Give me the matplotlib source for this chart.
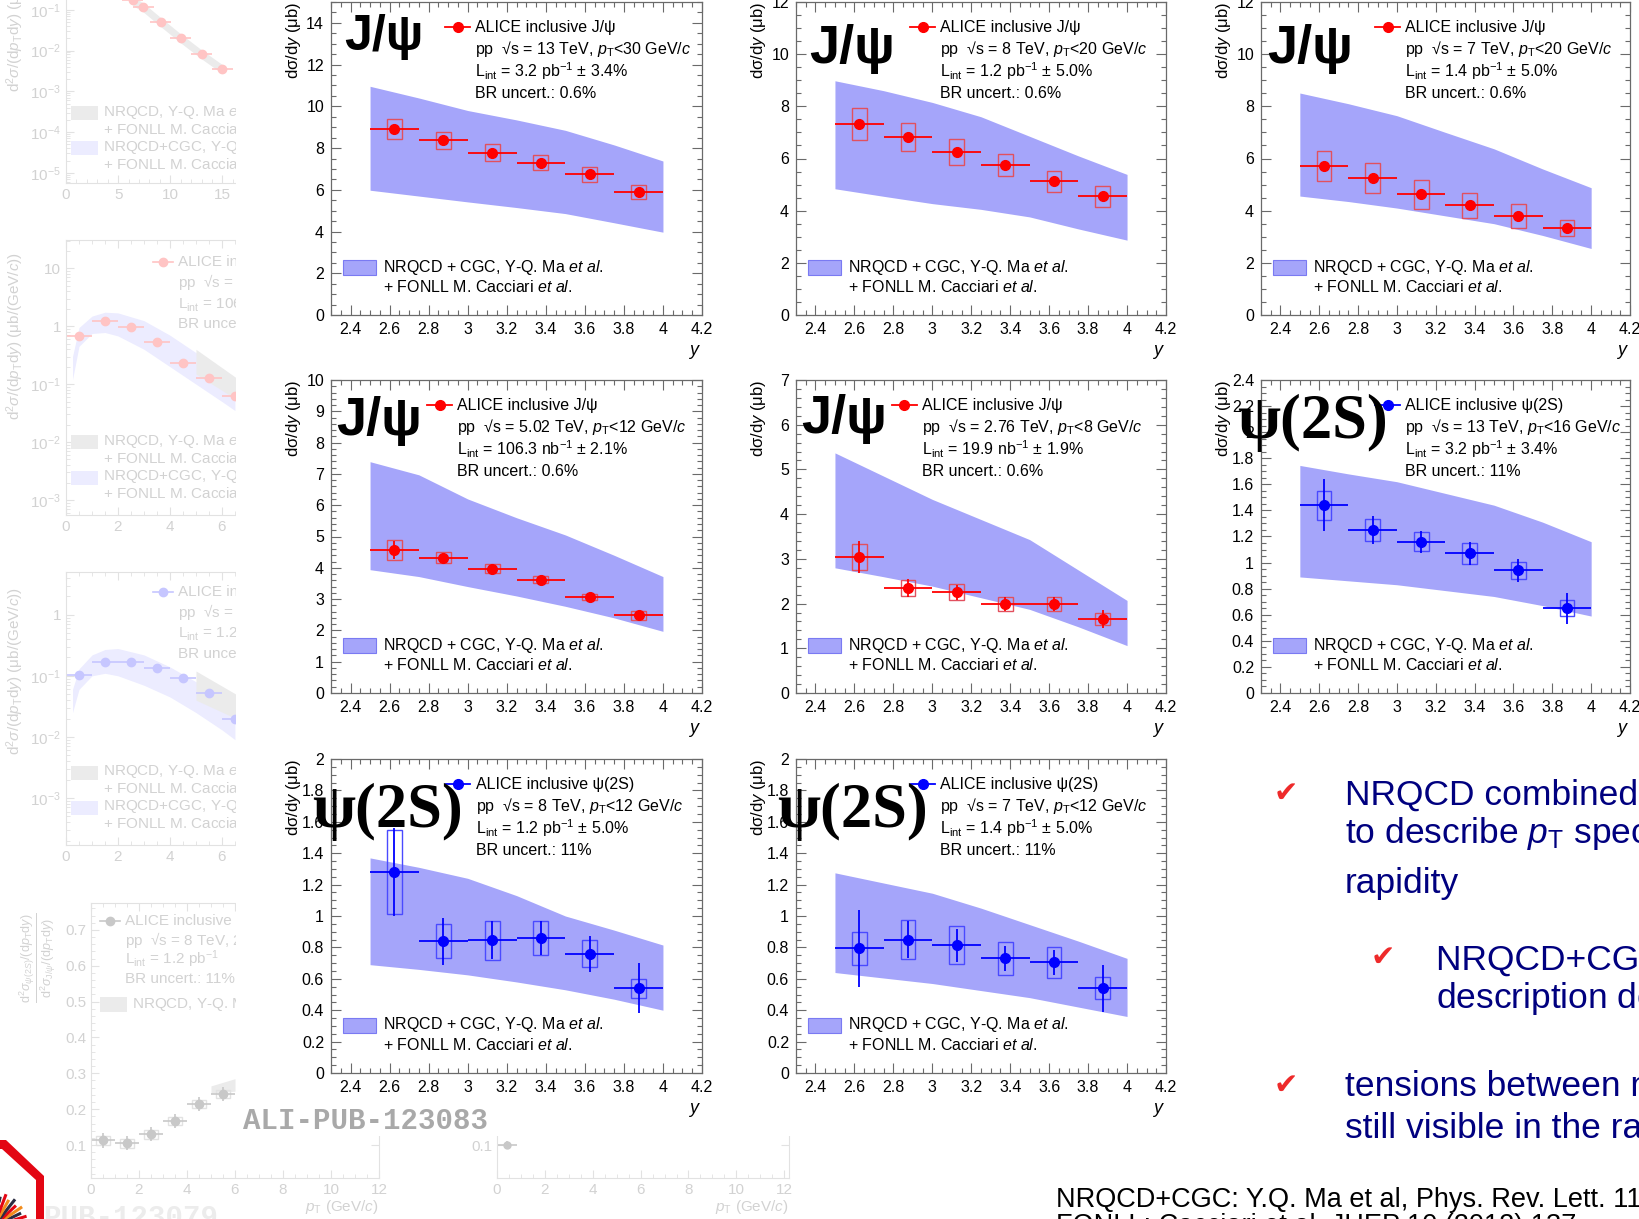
import numpy as np
import matplotlib
matplotlib.use("Agg")
import matplotlib.pyplot as plt
from matplotlib.patches import Rectangle, Polygon
from matplotlib.ticker import MultipleLocator, FixedLocator, FuncFormatter

plt.rcParams['font.family'] = ['Liberation Sans', 'DejaVu Sans']
plt.rcParams['mathtext.fontset'] = 'custom'
plt.rcParams['mathtext.rm'] = 'Liberation Sans'
plt.rcParams['mathtext.it'] = 'Liberation Sans:italic'
plt.rcParams['mathtext.bf'] = 'Liberation Sans:bold'

W, H = 1640, 1219

# ---------------------------------------------------------------- data
rap_centres = [2.625, 2.875, 3.125, 3.375, 3.625, 3.875]
band_rap = [2.5, 2.75, 3.0, 3.25, 3.5, 3.75, 4.0]

jpsi13_val = [8.93, 8.37, 7.78, 7.30, 6.75, 5.89]
jpsi13_stat = [0.08, 0.07, 0.06, 0.06, 0.06, 0.06]
jpsi13_syst = [0.48, 0.42, 0.40, 0.37, 0.36, 0.32]
jpsi13_lo = [5.98, 5.70, 5.42, 5.15, 4.86, 4.42, 3.97]
jpsi13_hi = [10.96, 10.40, 9.80, 9.35, 8.85, 8.15, 7.38]

jpsi8_val = [7.32, 6.82, 6.25, 5.76, 5.13, 4.55]
jpsi8_stat = [0.10, 0.08, 0.07, 0.07, 0.07, 0.08]
jpsi8_syst = [0.60, 0.54, 0.50, 0.42, 0.40, 0.40]
jpsi8_lo = [4.84, 4.55, 4.27, 4.05, 3.76, 3.30, 2.87]
jpsi8_hi = [8.98, 8.60, 8.15, 7.60, 6.85, 6.10, 5.39]

jpsi7_val = [5.71, 5.26, 4.62, 4.20, 3.80, 3.32]
jpsi7_stat = [0.08, 0.07, 0.07, 0.06, 0.06, 0.07]
jpsi7_syst = [0.59, 0.58, 0.56, 0.48, 0.45, 0.31]
jpsi7_lo = [4.56, 4.35, 4.10, 3.80, 3.50, 3.05, 2.55]
jpsi7_hi = [8.51, 8.10, 7.64, 7.00, 6.37, 5.60, 4.88]

jpsi502_val = [4.57, 4.32, 3.97, 3.62, 3.06, 2.48]
jpsi502_stat = [0.28, 0.12, 0.08, 0.08, 0.08, 0.12]
jpsi502_syst = [0.31, 0.18, 0.14, 0.11, 0.10, 0.14]
jpsi502_lo = [3.94, 3.72, 3.40, 3.10, 2.77, 2.40, 1.97]
jpsi502_hi = [7.39, 6.97, 6.20, 5.60, 5.05, 4.40, 3.72]

jpsi276_val = [3.04, 2.35, 2.25, 1.99, 1.99, 1.66]
jpsi276_stat = [0.35, 0.20, 0.16, 0.15, 0.15, 0.20]
jpsi276_syst = [0.29, 0.18, 0.18, 0.16, 0.16, 0.13]
jpsi276_lo = [2.80, 2.60, 2.39, 2.13, 1.87, 1.48, 1.06]
jpsi276_hi = [5.37, 4.85, 4.33, 3.88, 3.43, 2.75, 2.07]

psi2s13_val = [1.44, 1.25, 1.16, 1.07, 0.94, 0.65]
psi2s13_stat = [0.20, 0.105, 0.083, 0.086, 0.09, 0.12]
psi2s13_syst = [0.11, 0.086, 0.073, 0.08, 0.067, 0.06]
psi2s13_lo = [0.89, 0.86, 0.83, 0.785, 0.74, 0.67, 0.59]
psi2s13_hi = [1.745, 1.68, 1.62, 1.53, 1.44, 1.31, 1.16]

psi2s8_val = [1.28, 0.84, 0.845, 0.86, 0.76, 0.54]
psi2s8_stat = [0.28, 0.15, 0.12, 0.11, 0.115, 0.16]
psi2s8_syst = [0.265, 0.11, 0.125, 0.11, 0.085, 0.06]
psi2s8_lo = [0.69, 0.66, 0.625, 0.58, 0.53, 0.47, 0.40]
psi2s8_hi = [1.37, 1.31, 1.24, 1.13, 1.00, 0.91, 0.815]

psi2s7_val = [0.795, 0.85, 0.815, 0.73, 0.705, 0.54]
psi2s7_stat = [0.245, 0.12, 0.105, 0.08, 0.08, 0.15]
psi2s7_syst = [0.105, 0.127, 0.12, 0.105, 0.10, 0.07]
psi2s7_lo = [0.64, 0.605, 0.57, 0.525, 0.48, 0.42, 0.36]
psi2s7_hi = [1.275, 1.21, 1.145, 1.05, 0.945, 0.84, 0.73]

jpsi_info = [
    ["ALICE inclusive J/ψ", "pp  √s = 13 TeV, $p_{\\rm T}$<30 GeV/$c$",
     "L$_{\\rm int}$ = 3.2 pb$^{-1}$ ± 3.4%", "BR uncert.: 0.6%"],
    ["ALICE inclusive J/ψ", "pp  √s = 8 TeV, $p_{\\rm T}$<20 GeV/$c$",
     "L$_{\\rm int}$ = 1.2 pb$^{-1}$ ± 5.0%", "BR uncert.: 0.6%"],
    ["ALICE inclusive J/ψ", "pp  √s = 7 TeV, $p_{\\rm T}$<20 GeV/$c$",
     "L$_{\\rm int}$ = 1.4 pb$^{-1}$ ± 5.0%", "BR uncert.: 0.6%"],
    ["ALICE inclusive J/ψ", "pp  √s = 5.02 TeV, $p_{\\rm T}$<12 GeV/$c$",
     "L$_{\\rm int}$ = 106.3 nb$^{-1}$ ± 2.1%", "BR uncert.: 0.6%"],
    ["ALICE inclusive J/ψ", "pp  √s = 2.76 TeV, $p_{\\rm T}$<8 GeV/$c$",
     "L$_{\\rm int}$ = 19.9 nb$^{-1}$ ± 1.9%", "BR uncert.: 0.6%"],
]
psi_info = [
    ["ALICE inclusive ψ(2S)", "pp  √s = 13 TeV, $p_{\\rm T}$<16 GeV/$c$",
     "L$_{\\rm int}$ = 3.2 pb$^{-1}$ ± 3.4%", "BR uncert.: 11%"],
    ["ALICE inclusive ψ(2S)", "pp  √s = 8 TeV, $p_{\\rm T}$<12 GeV/$c$",
     "L$_{\\rm int}$ = 1.2 pb$^{-1}$ ± 5.0%", "BR uncert.: 11%"],
    ["ALICE inclusive ψ(2S)", "pp  √s = 7 TeV, $p_{\\rm T}$<12 GeV/$c$",
     "L$_{\\rm int}$ = 1.4 pb$^{-1}$ ± 5.0%", "BR uncert.: 11%"],
]
model_label = ["NRQCD + CGC, Y-Q. Ma $\\mathit{et\\ al.}$",
               "+ FONLL M. Cacciari $\\mathit{et\\ al.}$"]

# faded spectra shown behind the rapidity panels
fadeA_pt = [6.4, 7.4, 9.1, 11.0, 13.0, 15.0]
fadeA_val = [0.17, 0.118, 0.051, 0.0205, 0.0083, 0.0036]
fadeB_pt = [0.5, 1.5, 2.5, 3.5, 4.5, 5.5, 6.5]
fadeB_val = [0.67, 1.22, 0.96, 0.54, 0.23, 0.13, 0.062]
fadeC_val = [0.104, 0.17, 0.17, 0.135, 0.093, 0.053, 0.020]
fade_band_pt = [0.25, 0.5, 1.0, 1.5, 2.0, 3.0, 4.0, 5.0, 6.0, 6.5]
fadeB_band_lo = [0.12, 0.45, 0.75, 0.78, 0.68, 0.40, 0.20, 0.10, 0.05, 0.035]
fadeB_band_hi = [0.30, 0.95, 1.50, 1.75, 1.70, 1.25, 0.70, 0.35, 0.17, 0.12]
fadeC_band_lo = [0.025, 0.06, 0.10, 0.11, 0.10, 0.07, 0.045, 0.025, 0.013, 0.009]
fadeC_band_hi = [0.06, 0.13, 0.22, 0.27, 0.28, 0.22, 0.14, 0.08, 0.045, 0.03]
ratio_pt = [0.5, 1.5, 2.5, 3.5, 4.5, 5.5]
ratio_val = [0.113, 0.105, 0.130, 0.167, 0.214, 0.242]

BAND = '#a5a5fa'
BAND_EDGE = '#7a7af2'
RED = '#ff0000'
RED_BOX = '#e2505e'
BLUE = '#0000ff'
BLUE_BOX = '#4a4aff'
FRAME = '#6a6a6a'

fig = plt.figure(figsize=(W / 100, H / 100), dpi=100)


def box(l, t, r, b):
    return [l / W, 1 - b / H, (r - l) / W, (b - t) / H]


def pix_axes(z):
    a = fig.add_axes([0, 0, 1, 1], zorder=z)
    a.set_xlim(0, W)
    a.set_ylim(H, 0)
    a.axis('off')
    a.patch.set_alpha(0)
    return a


def gfmt(v, pos):
    return f"{round(v, 6):g}"


# ---------------------------------------------------------------- faded layer
F_TXT = '#d2d2d2'
F_LINE = '#e2e2e2'
F_PINK = '#ffc4c4'
F_BLUE = '#c6c6ff'
F_GRAY = '#c8c8c8'
F_BAND_B = '#ececff'
F_BAND_G = '#ebebeb'


def logfmt(v, pos):
    e = int(round(np.log10(v)))
    if e == 0:
        return "1"
    if e == 1:
        return "10"
    return f"$10^{{{e}}}$"


def faded_axes(px, xlim, ylim, log, spines):
    a = fig.add_axes(box(*px), zorder=-3)
    a.set_xlim(*xlim)
    if log:
        a.set_yscale('log')
        a.yaxis.set_major_formatter(FuncFormatter(logfmt))
    a.set_ylim(*ylim)
    for s in a.spines:
        a.spines[s].set_visible(s in spines)
        a.spines[s].set_color(F_LINE)
    a.tick_params(which='both', direction='in', colors=F_LINE, labelcolor=F_TXT,
                  labelsize=11, top=('top' in spines), right=False)
    a.tick_params(which='major', length=6)
    a.tick_params(which='minor', length=3)
    a.set_facecolor('none')
    return a


fa = faded_axes((66, 0, 236, 183), (0, 16.3), (10 ** -5.25, 10 ** -0.76), True, ('left', 'bottom'))
fa.xaxis.set_major_locator(MultipleLocator(5))
fa.xaxis.set_minor_locator(MultipleLocator(1))
fa.fill_between(fadeA_pt, np.array(fadeA_val) * 0.75, np.array(fadeA_val) * 1.25, color=F_BAND_G, lw=0)
fa.errorbar(fadeA_pt, fadeA_val, xerr=1.0, fmt='o', color=F_PINK, ms=6, elinewidth=1.2)

fb = faded_axes((66, 240, 236, 515), (0, 6.54), (10 ** -3.26, 10 ** 1.49), True, ('left', 'bottom', 'top'))
fb.xaxis.set_major_locator(MultipleLocator(2))
fb.xaxis.set_minor_locator(MultipleLocator(0.5))
fb.fill_between(fade_band_pt, fadeB_band_lo, fadeB_band_hi, color=F_BAND_B, lw=0)
fb.fill_between([5.0, 6.54], [0.15, 0.055], [0.40, 0.13], color=F_BAND_G, lw=0)
fb.errorbar(fadeB_pt, fadeB_val, xerr=0.5, fmt='o', color=F_PINK, ms=6, elinewidth=1.2)

fc = faded_axes((66, 572, 236, 845), (0, 6.54), (10 ** -3.77, 10 ** 0.7), True, ('left', 'bottom', 'top'))
fc.xaxis.set_major_locator(MultipleLocator(2))
fc.xaxis.set_minor_locator(MultipleLocator(0.5))
fc.fill_between(fade_band_pt, fadeC_band_lo, fadeC_band_hi, color=F_BAND_B, lw=0)
fc.fill_between([5.0, 6.54], [0.04, 0.02], [0.12, 0.05], color=F_BAND_G, lw=0)
fc.errorbar(fadeB_pt, fadeC_val, xerr=0.5, fmt='o', color=F_BLUE, ms=6, elinewidth=1.2)

fd = faded_axes((91, 903, 379, 1178), (0, 12), (0.008, 0.775), False, ('left', 'bottom', 'top', 'right'))
fd.tick_params(right=True)
fd.xaxis.set_major_locator(MultipleLocator(2))
fd.xaxis.set_minor_locator(MultipleLocator(0.5))
fd.yaxis.set_major_locator(MultipleLocator(0.1))
fd.yaxis.set_minor_locator(MultipleLocator(0.02))
fd.yaxis.set_major_formatter(FuncFormatter(gfmt))
fd.fill_between([5.0, 6.0], [0.245, 0.25], [0.265, 0.285], color=F_BAND_G, lw=0)
for xc, v in zip(ratio_pt, ratio_val):
    fd.add_patch(Rectangle((xc - 0.3, v - 0.012), 0.6, 0.024, fill=False, ec=F_LINE, lw=1))
fd.errorbar(ratio_pt, ratio_val, xerr=0.5, yerr=0.02, fmt='o', color=F_GRAY, ms=6, elinewidth=1.2)

fe = faded_axes((497, 903, 789, 1178), (0, 12.2), (0.008, 0.775), False, ('left', 'bottom', 'right'))
fe.tick_params(right=True)
fe.xaxis.set_major_locator(MultipleLocator(2))
fe.xaxis.set_minor_locator(MultipleLocator(0.5))
fe.yaxis.set_major_locator(MultipleLocator(0.1))
fe.yaxis.set_major_formatter(FuncFormatter(gfmt))
fe.errorbar([0.42], [0.1], xerr=0.4, yerr=0.01, fmt='o', color=F_GRAY, ms=5, elinewidth=1.2)

under = pix_axes(-2.5)
fk = dict(color=F_TXT, fontsize=11, va='center')
# spectra legends
for top, rects in ((112, (106, 141)), (441, (435, 471)), (771, (766, 801))):
    under.add_patch(Rectangle((71, rects[0]), 27, 14, color=F_BAND_G, lw=0))
    under.add_patch(Rectangle((71, rects[1]), 27, 14, color=F_BAND_B, lw=0))
    step = 17.5
    under.text(103, top, "NRQCD, Y-Q. Ma $\\mathit{et\\ al.}$", **fk)
    under.text(103, top + step, "+ FONLL M. Cacciari $\\mathit{et\\ al.}$", **fk)
    under.text(103, top + 2 * step, "NRQCD+CGC, Y-Q. Ma $\\mathit{et\\ al.}$", **fk)
    under.text(103, top + 3 * step, "+ FONLL M. Cacciari $\\mathit{et\\ al.}$", **fk)
for top, col, lines in (
        (262, F_PINK, ["ALICE inclusive J/ψ", "pp  √s = 5.02 TeV, 2.5<$y$<4",
                       "L$_{\\rm int}$ = 106.3 nb$^{-1}$ ± 2.1%", "BR uncert.: 0.6%"]),
        (592, F_BLUE, ["ALICE inclusive ψ(2S)", "pp  √s = 8 TeV, 2.5<$y$<4",
                       "L$_{\\rm int}$ = 1.2 pb$^{-1}$ ± 5.0%", "BR uncert.: 11%"])):
    under.plot([153, 173], [top, top], color=col, lw=1.2)
    under.plot([163], [top], 'o', color=col, ms=6)
    for i, s in enumerate(lines):
        under.text(178, top + 20.5 * i, s, **fk)
under.plot([100, 120], [921, 921], color=F_GRAY, lw=1.2)
under.plot([110], [921], 'o', color=F_GRAY, ms=6)
for i, s in enumerate(["ALICE inclusive J/ψ and ψ(2S)", "pp  √s = 8 TeV, 2.5<$y$<4",
                       "L$_{\\rm int}$ = 1.2 pb$^{-1}$", "BR uncert.: 11%"]):
    under.text(125, 921 + 19.3 * i, s, **fk)
under.add_patch(Rectangle((100, 997), 27, 15, color=F_BAND_G, lw=0))
under.text(132, 1004, "NRQCD, Y-Q. Ma $\\mathit{et\\ al.}$", **fk)
ylab = "d$^2\\sigma$/(d$p_{\\rm T}$d$y$) (μb/(GeV/$c$))"
for yb in (92, 420, 755):
    under.text(15, yb, ylab, color=F_TXT, fontsize=11, rotation=90,
               rotation_mode='anchor', ha='left', va='center')
under.text(38, 958, "$\\frac{{\\rm d}^2\\sigma_{\\psi(2S)}/({\\rm d}p_{\\rm T}{\\rm d}y)}"
                    "{{\\rm d}^2\\sigma_{{\\rm J}/\\psi}/({\\rm d}p_{\\rm T}{\\rm d}y)}$",
           color=F_TXT, fontsize=13, rotation=90, ha='center', va='center')
under.text(379, 1207, "$p_{\\rm T}$ (GeV/$c$)", color=F_TXT, fontsize=11, ha='right', va='center')
under.text(789, 1207, "$p_{\\rm T}$ (GeV/$c$)", color=F_TXT, fontsize=11, ha='right', va='center')
under.text(43, 1218, "PUB-123079", color='#ececec', fontsize=21, fontfamily='Liberation Mono',
           fontweight='bold', va='center')

# white sheet carrying the rapidity panels
cover = pix_axes(-2)
cover.add_patch(Rectangle((236, 0), W - 236, 1136, color='white', lw=0))

# ---------------------------------------------------------------- main panels
cols = [(331, 702), (796, 1166), (1261, 1630)]
rows = [(2, 315), (380, 693), (759, 1073)]

panels = [
    dict(r=0, c=0, v=jpsi13_val, st=jpsi13_stat, sy=jpsi13_syst, lo=jpsi13_lo, hi=jpsi13_hi,
         ymax=15, maj=2, mnr=0.5, kind='jpsi', info=jpsi_info[0], lx=0.388, big=(0.036, 0.847, 36)),
    dict(r=0, c=1, v=jpsi8_val, st=jpsi8_stat, sy=jpsi8_syst, lo=jpsi8_lo, hi=jpsi8_hi,
         ymax=12, maj=2, mnr=0.5, kind='jpsi', info=jpsi_info[1], lx=0.389, big=(0.036, 0.805, 39)),
    dict(r=0, c=2, v=jpsi7_val, st=jpsi7_stat, sy=jpsi7_syst, lo=jpsi7_lo, hi=jpsi7_hi,
         ymax=12, maj=2, mnr=0.5, kind='jpsi', info=jpsi_info[2], lx=0.39, big=(0.018, 0.805, 39)),
    dict(r=1, c=0, v=jpsi502_val, st=jpsi502_stat, sy=jpsi502_syst, lo=jpsi502_lo, hi=jpsi502_hi,
         ymax=10, maj=1, mnr=0.2, kind='jpsi', info=jpsi_info[3], lx=0.34, big=(0.014, 0.824, 39)),
    dict(r=1, c=1, v=jpsi276_val, st=jpsi276_stat, sy=jpsi276_syst, lo=jpsi276_lo, hi=jpsi276_hi,
         ymax=7, maj=1, mnr=0.2, kind='jpsi', info=jpsi_info[4], lx=0.34, big=(0.014, 0.83, 39)),
    dict(r=1, c=2, v=psi2s13_val, st=psi2s13_stat, sy=psi2s13_syst, lo=psi2s13_lo, hi=psi2s13_hi,
         ymax=2.4, maj=0.2, mnr=0.05, kind='psi', info=psi_info[0], lx=0.39, big=(-0.066, 0.815, 45)),
    dict(r=2, c=0, v=psi2s8_val, st=psi2s8_stat, sy=psi2s8_syst, lo=psi2s8_lo, hi=psi2s8_hi,
         ymax=2, maj=0.2, mnr=0.05, kind='psi', info=psi_info[1], lx=0.39, big=(-0.05, 0.783, 45)),
    dict(r=2, c=1, v=psi2s7_val, st=psi2s7_stat, sy=psi2s7_syst, lo=psi2s7_lo, hi=psi2s7_hi,
         ymax=2, maj=0.2, mnr=0.05, kind='psi', info=psi_info[2], lx=0.39, big=(-0.05, 0.783, 45)),
]

xticks = np.round(np.arange(2.4, 4.201, 0.2), 2)
xminor = np.round(np.arange(2.3, 4.201, 0.05), 3)

for p in panels:
    l, r = cols[p['c']]
    t, b = rows[p['r']]
    ax = fig.add_axes(box(l, t, r, b), zorder=0)
    ax.set_facecolor('white')
    ax.set_xlim(2.3, 4.2)
    ax.set_ylim(0, p['ymax'])
    col, bcol = (RED, RED_BOX) if p['kind'] == 'jpsi' else (BLUE, BLUE_BOX)

    ax.fill_between(band_rap, p['lo'], p['hi'], color=BAND, lw=0, zorder=1)
    for xc, v, s in zip(rap_centres, p['v'], p['sy']):
        ax.add_patch(Rectangle((xc - 0.038, v - s), 0.076, 2 * s, fill=False,
                               ec=bcol, lw=1.0, zorder=3))
    ax.errorbar(rap_centres, p['v'], xerr=0.125, yerr=p['st'], fmt='o', color=col,
                ms=7, elinewidth=1.3, capsize=0, zorder=4)

    # axis cosmetics
    ax.xaxis.set_major_locator(FixedLocator(xticks))
    ax.xaxis.set_minor_locator(FixedLocator(xminor))
    ax.yaxis.set_major_locator(MultipleLocator(p['maj']))
    ax.yaxis.set_minor_locator(MultipleLocator(p['mnr']))
    ax.xaxis.set_major_formatter(FuncFormatter(gfmt))
    ax.yaxis.set_major_formatter(FuncFormatter(gfmt))
    ax.tick_params(which='both', direction='in', top=True, right=True, color=FRAME,
                   width=0.8, labelsize=11.5, labelcolor='black')
    ax.tick_params(which='major', length=7, pad=5)
    ax.tick_params(which='minor', length=3.5)
    for s in ax.spines.values():
        s.set_color(FRAME)
        s.set_linewidth(0.9)

    ax.text(-0.102, 1.0, "dσ/d$y$ (μb)", transform=ax.transAxes, rotation=90,
            ha='center', va='top', fontsize=12)
    ax.text(0.98, -0.118, "$y$", transform=ax.transAxes, ha='center', va='center', fontsize=13)

    # data legend
    lx = p['lx']
    mx = lx - 0.047
    y0 = 0.92
    ax.plot([mx - 0.033, mx + 0.033], [y0, y0], color=col, lw=1.3, transform=ax.transAxes,
            clip_on=False, zorder=6)
    ax.plot([mx], [y0], 'o', color=col, ms=7, transform=ax.transAxes, clip_on=False, zorder=6)
    for i, s in enumerate(p['info']):
        ax.text(lx, y0 - 0.0705 * i, s, transform=ax.transAxes, ha='left', va='center',
                fontsize=11.5, zorder=6)

    # model legend
    ax.add_patch(Rectangle((0.032, 0.128), 0.089, 0.048, transform=ax.transAxes,
                           fc=BAND, ec=BAND_EDGE, lw=0.8, zorder=5))
    ax.text(0.14, 0.153, model_label[0], transform=ax.transAxes, ha='left', va='center',
            fontsize=11.5, zorder=6)
    ax.text(0.14, 0.09, model_label[1], transform=ax.transAxes, ha='left', va='center',
            fontsize=11.5, zorder=6)

    bx, by, bs = p['big']
    if p['kind'] == 'jpsi':
        ax.text(bx, by, "J/ψ", transform=ax.transAxes, ha='left', va='baseline',
                fontsize=bs, fontweight='bold', family=['Liberation Sans', 'DejaVu Sans'],
                zorder=10, clip_on=False)
    else:
        ax.text(bx, by, "ψ(2S)", transform=ax.transAxes, ha='left', va='baseline',
                fontsize=bs, fontweight='bold', family=['Liberation Serif', 'DejaVu Serif'],
                zorder=10, clip_on=False)

# ---------------------------------------------------------------- slide text and marks
over = pix_axes(5)
over.text(243, 1121, "ALI-PUB-123083", color='#a9a9a9', fontsize=21,
          fontfamily='Liberation Mono', fontweight='bold', ha='left', va='center')

NAVY = '#00007f'
CHECK = '#ee2a2a'
bullet_kw = dict(color=NAVY, fontsize=25.5, ha='left', va='baseline')
check_kw = dict(color=CHECK, fontsize=21, ha='center', va='center', family=['DejaVu Sans'],
                fontweight='bold')
over.text(1286, 794, "✔", **check_kw)
over.text(1345, 805, "NRQCD combined with FONLL able", **bullet_kw)
over.text(1345, 843, "to describe $p_{\\rm T}$ spectra at forward", **bullet_kw)
over.text(1345, 893, "rapidity", **bullet_kw)
over.text(1383, 958, "✔", **check_kw)
over.text(1436, 970, "NRQCD+CGC: good", **bullet_kw)
over.text(1436, 1008, "description down to low $p_{\\rm T}$", **bullet_kw)
over.text(1286, 1086, "✔", **check_kw)
over.text(1345, 1096, "tensions between models and data", **bullet_kw)
over.text(1345, 1138, "still visible in the ratio", **bullet_kw)
over.text(1056, 1207, "NRQCD+CGC: Y.Q. Ma et al, Phys. Rev. Lett. 113 (2014) 192301",
          color='black', fontsize=19.5, ha='left', va='baseline')
over.text(1056, 1233, "FONLL: Cacciari et al, JHEP 10 (2012) 137",
          color='black', fontsize=19.5, ha='left', va='baseline')

# corner logo
over.add_patch(Polygon([(-5, 1140), (6, 1140), (44, 1176), (44, 1225), (36, 1225),
                        (36, 1180), (2, 1149), (-5, 1149)], closed=True, fc='#e30613', lw=0))
ray_colors = ['#f28c1c', '#e30613', '#2b2d42', '#f28c1c', '#e30613', '#2b2d42', '#f28c1c',
              '#e30613', '#2b2d42']
for k, ang in enumerate(np.linspace(8, 78, 9)):
    a = np.deg2rad(ang)
    r0, r1 = 8, 30 + 4 * (k % 2)
    cx, cy = -6, 1226
    over.plot([cx + r0 * np.cos(a), cx + r1 * np.cos(a)],
              [cy - r0 * np.sin(a), cy - r1 * np.sin(a)], color=ray_colors[k], lw=2.2,
              solid_capstyle='butt')

fig.savefig("out.png", dpi=100)
